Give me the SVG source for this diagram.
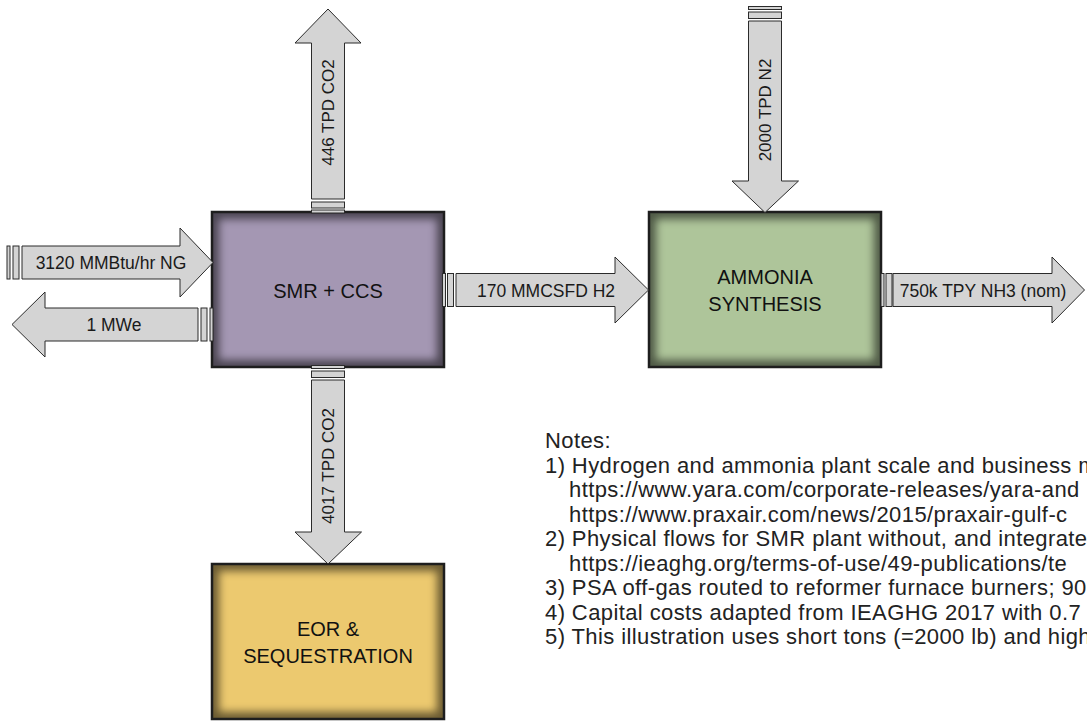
<svg xmlns="http://www.w3.org/2000/svg" width="1087" height="721" viewBox="0 0 1087 721">
<style>
.arr{fill:#d4d4d4;stroke:#2b2b2b;stroke-width:1}
.lbl{font-family:"Liberation Sans",Arial,sans-serif;font-size:17.5px;fill:#1a1a1a;text-anchor:middle}
.rot{font-family:"Liberation Sans",Arial,sans-serif;font-size:17px;fill:#1a1a1a;text-anchor:middle}
.box{font-family:"Liberation Sans",Arial,sans-serif;font-size:20px;fill:#111;text-anchor:middle}
.notes{font-family:"Liberation Sans",Arial,sans-serif;font-size:22px;letter-spacing:0.4px;fill:#222}
.edge{fill:none;stroke:#1e1e1e;stroke-width:2.5}
.shade{fill:none;stroke:#000;stroke-width:14;opacity:0.55;filter:url(#blur)}
</style>
<defs>
<filter id="blur" x="-10%" y="-10%" width="120%" height="120%"><feGaussianBlur stdDeviation="4"/></filter>
<clipPath id="cSMR"><rect x="212" y="212" width="232" height="155"/></clipPath>
<clipPath id="cNH3"><rect x="649" y="212" width="232" height="155"/></clipPath>
<clipPath id="cEOR"><rect x="212" y="564" width="232" height="155"/></clipPath>
</defs>
<rect width="1087" height="721" fill="#fff"/>

<g id="smr">
<rect x="212" y="212" width="232" height="155" fill="#a497b3"/>
<rect class="shade" x="212" y="212" width="232" height="155" clip-path="url(#cSMR)"/>
<rect class="edge" x="212" y="212" width="232" height="155"/>
<text class="box" x="328" y="297.5">SMR + CCS</text>
</g>

<g id="ammonia">
<rect x="649" y="212" width="232" height="155" fill="#aec59a"/>
<rect class="shade" x="649" y="212" width="232" height="155" clip-path="url(#cNH3)"/>
<rect class="edge" x="649" y="212" width="232" height="155"/>
<text class="box" x="765" y="283.5">AMMONIA</text>
<text class="box" x="765" y="311">SYNTHESIS</text>
</g>

<g id="eor">
<rect x="212" y="564" width="232" height="155" fill="#ecc96f"/>
<rect class="shade" x="212" y="564" width="232" height="155" clip-path="url(#cEOR)"/>
<rect class="edge" x="212" y="564" width="232" height="155"/>
<text class="box" x="328" y="636">EOR &amp;</text>
<text class="box" x="328" y="663">SEQUESTRATION</text>
</g>

<g id="connectors">
<g id="ng">
<rect class="arr" x="7" y="246" width="3" height="33"/>
<rect class="arr" x="13" y="246" width="6" height="33"/>
<polygon class="arr" points="22,246 180,246 180,228 213,262.5 180,297 180,279 22,279"/>
<text class="lbl" x="111" y="269">3120 MMBtu/hr NG</text>
</g>
<g id="mwe">
<rect class="arr" x="210" y="308" width="3" height="33"/>
<rect class="arr" x="201" y="308" width="6" height="33"/>
<polygon class="arr" points="198,308 45,308 45,292 12,324.5 45,357 45,341 198,341"/>
<text class="lbl" x="114" y="331">1 MWe</text>
</g>
<g id="co2up">
<rect class="arr" x="311.5" y="210" width="33" height="3"/>
<rect class="arr" x="311.5" y="202" width="33" height="6"/>
<polygon class="arr" points="311.5,199 311.5,43 295,43 328,9 361,43 344.5,43 344.5,199"/>
<text class="rot" transform="translate(328,112.5) rotate(-90)" x="0" y="6">446 TPD CO2</text>
</g>
<g id="co2down">
<rect class="arr" x="311.5" y="365.5" width="33" height="3"/>
<rect class="arr" x="311.5" y="371" width="33" height="6.5"/>
<polygon class="arr" points="311.5,380 311.5,532 295,532 328,564 361.5,532 344.5,532 344.5,380"/>
<text class="rot" transform="translate(328,466) rotate(-90)" x="0" y="6">4017 TPD CO2</text>
</g>
<g id="h2">
<rect class="arr" x="442.5" y="273.5" width="3" height="33"/>
<rect class="arr" x="447.5" y="273.5" width="6" height="33"/>
<polygon class="arr" points="456,273.5 615,273.5 615,257 648.5,290 615,323 615,306.5 456,306.5"/>
<text class="lbl" x="546" y="296.5">170 MMCSFD H2</text>
</g>
<g id="n2">
<rect class="arr" x="748.5" y="6.5" width="33" height="3"/>
<rect class="arr" x="748.5" y="12" width="33" height="6.5"/>
<polygon class="arr" points="748.5,21 748.5,181 732,181 765,212.5 798.5,181 781.5,181 781.5,21"/>
<text class="rot" transform="translate(765,110) rotate(-90)" x="0" y="6">2000 TPD N2</text>
</g>
<g id="nh3">
<rect class="arr" x="881" y="273.5" width="3" height="33"/>
<rect class="arr" x="886" y="273.5" width="6" height="33"/>
<polygon class="arr" points="893,273.5 1052,273.5 1052,257 1084.5,290 1052,323 1052,306.5 893,306.5"/>
<text class="lbl" x="983" y="296.5">750k TPY NH3 (nom)</text>
</g>
</g>

<g id="notes" class="notes">
<text x="545" y="448">Notes:</text>
<text x="545" y="472.5">1) Hydrogen and ammonia plant scale and business m</text>
<text x="569" y="497">https://www.yara.com/corporate-releases/yara-and</text>
<text x="569" y="521.5">https://www.praxair.com/news/2015/praxair-gulf-c</text>
<text x="545" y="546">2) Physical flows for SMR plant without, and integrate</text>
<text x="569" y="570.5">https://ieaghg.org/terms-of-use/49-publications/te</text>
<text x="545" y="595">3) PSA off-gas routed to reformer furnace burners; 90</text>
<text x="545" y="619.5">4) Capital costs adapted from IEAGHG 2017 with 0.7</text>
<text x="545" y="644">5) This illustration uses short tons (=2000 lb) and high</text>
</g>
</svg>
